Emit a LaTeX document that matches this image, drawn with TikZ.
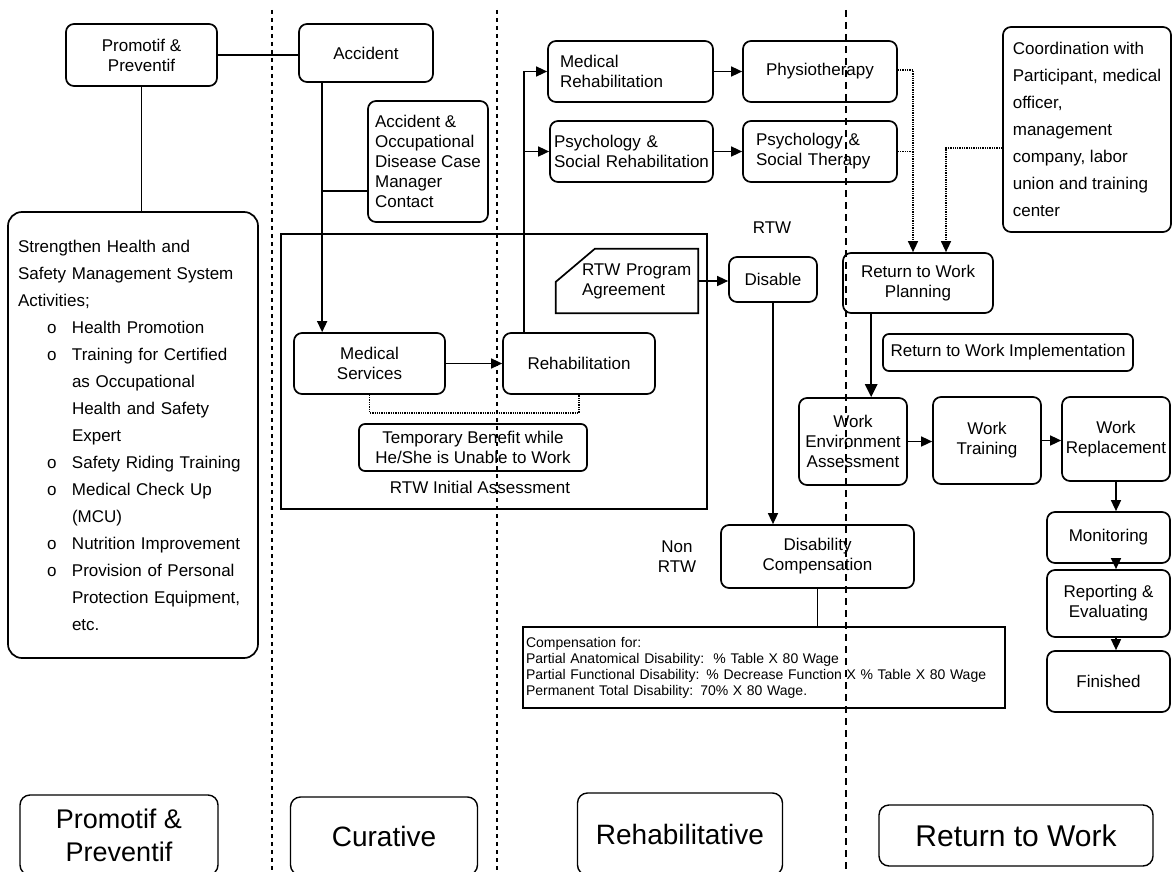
\documentclass[tikz,border=0pt]{standalone}
\usepackage{fontspec}
\setmainfont{Liberation Sans}
\usetikzlibrary{arrows.meta,calc}
% indentation helpers for the activity list
\newcommand{\shbul}{\makebox[54pt][l]{\hspace*{29pt}o}}
\newcommand{\shind}{\hspace*{54pt}}
\begin{document}
\begin{tikzpicture}[x=1pt,y=-1pt,
  box/.style={draw, rounded corners=8pt, line width=1.7pt, inner sep=0pt,
    align=center, font=\fontsize{17}{20}\selectfont},
  plain/.style={draw, line width=1.3pt, inner sep=0pt},
  lbl/.style={inner sep=0pt, align=center, font=\fontsize{17}{20}\selectfont},
  conn/.style={line width=1.5pt},
  arr/.style={line width=1.5pt, -{Triangle[length=11pt,width=10pt]}},
  thickarr/.style={line width=2.6pt, -{Triangle[length=13pt,width=12pt]}},
  dotline/.style={line width=1.3pt, densely dotted},
  dotarr/.style={line width=1.3pt, densely dotted, -{Triangle[length=11pt,width=10pt]}},
  divider/.style={line width=2.6pt, dash pattern=on 4pt off 4pt},
  dividerthin/.style={line width=2pt, dash pattern=on 7pt off 5pt},
  phase/.style={draw, rounded corners=10pt, line width=1.4pt, inner sep=0pt, align=center}
]
\useasboundingbox (0,0) rectangle (1172,872);

% ---------- Promotif & Preventif column ----------
\node[box, minimum width=151, minimum height=62] (pp) at (141.5,55) {Promotif \&\\Preventif};
\node[box, minimum width=250, minimum height=446, rounded corners=14pt, align=left,
      text width=230, font=\fontsize{17}{27}\selectfont] (sh) at (133,435) {%
Strengthen Health and\\
Safety Management System\\
Activities;\\
\shbul Health Promotion\\
\shbul Training for Certified\\
\shind as Occupational\\
\shind Health and Safety\\
\shind Expert\\
\shbul Safety Riding Training\\
\shbul Medical Check Up\\
\shind (MCU)\\
\shbul Nutrition Improvement\\
\shbul Provision of Personal\\
\shind Protection Equipment,\\
\shind etc.};

% ---------- Curative column ----------
\node[box, minimum width=134, minimum height=58] (acc) at (366,53) {Accident};
\node[box, minimum width=120, minimum height=121, align=left] (acdc) at (428,161.5)
  {Accident \&\\Occupational\\Disease Case\\Manager\\Contact};

% RTW initial assessment frame
\node[plain, minimum width=426, minimum height=275] (frame) at (494,371.5) {};
\node[lbl] (ria) at (480,487) {RTW Initial Assessment};

\node[box, minimum width=151, minimum height=61] (ms) at (369.5,363.5) {Medical\\Services};
\node[box, minimum width=152, minimum height=61] (rh) at (579,363.5) {Rehabilitation};
\node[box, minimum width=228, minimum height=47, rounded corners=6pt] (tb) at (473,447.5)
  {Temporary Benefit while\\He/She is Unable to Work};

% RTW program agreement (chamfered card)
\node[inner sep=0pt, minimum width=142, minimum height=64, align=left, text width=142,
      font=\fontsize{17}{20}\selectfont] (rtwpa) at (627,281)
  {\hspace*{26pt}RTW Program\\\hspace*{26pt}Agreement};
\draw[line width=1.7pt] (rtwpa.north east) -- (rtwpa.south east) -- (rtwpa.south west)
  -- ([yshift=-33pt]rtwpa.north west) -- ([xshift=39pt]rtwpa.north west) -- cycle;

% ---------- Rehabilitative column ----------
\node[box, minimum width=165, minimum height=61, align=left, text width=141] (mr) at (630.5,71.5)
  {Medical\\Rehabilitation};
\node[box, minimum width=163, minimum height=61, align=left, text width=155] (psr) at (631.5,151.5)
  {Psychology \&\\Social Rehabilitation};
\node[box, minimum width=154, minimum height=61] (phy) at (820,71.5) {Physiotherapy};
\node[box, minimum width=154, minimum height=61, align=left, text width=128] (pst) at (820,151.5)
  {Psychology \&\\Social Therapy};

\node[lbl] (rtwl) at (772,228) {RTW};
\node[box, minimum width=88, minimum height=45] (dis) at (773,279.5) {Disable};
\node[lbl] (nrtw) at (677,557) {Non\\RTW};
\node[box, minimum width=193, minimum height=63] (dc) at (817.5,556.5) {Disability\\Compensation};
\node[plain, line width=1.8pt, minimum width=482, minimum height=81, align=left, text width=476,
      font=\fontsize{14}{16}\selectfont] (comp) at (764,667.5)
  {Compensation for:\\
   Partial Anatomical Disability:\ \ \% Table X 80 Wage\\
   Partial Functional Disability: \% Decrease Function X \% Table X 80 Wage\\
   Permanent Total Disability: 70\% X 80 Wage.};

% ---------- Return to Work column ----------
\node[box, minimum width=168, minimum height=205, align=left,
      font=\fontsize{17}{27}\selectfont] (coord) at (1087,129.5)
  {Coordination with\\Participant, medical\\officer,\\management\\company, labor\\union and training\\center};
\node[box, minimum width=150, minimum height=60] (rtwp) at (918,283) {Return to Work\\Planning};
\node[box, minimum width=250, minimum height=37, rounded corners=6pt] (rtwi) at (1008,352.5)
  {Return to Work Implementation};
\node[box, minimum width=108, minimum height=87] (wea) at (853,441.5) {Work\\Environment\\Assessment};
\node[box, minimum width=108, minimum height=87] (wt) at (987,440.5) {Work\\Training};
\node[box, minimum width=108, minimum height=84] (wr) at (1116,439) {Work\\Replacement};
\node[box, minimum width=123, minimum height=51] (mon) at (1108.5,537.5) {Monitoring};
\node[box, minimum width=123, minimum height=67] (rep) at (1108.5,603.5) {Reporting \&\\Evaluating};
\node[box, minimum width=123, minimum height=61] (fin) at (1108.5,681.5) {Finished};

% ---------- phase labels ----------
\node[phase, minimum width=198, minimum height=80, font=\fontsize{27}{33}\selectfont] (ph1) at (119,835)
  {Promotif \&\\Preventif};
\node[phase, minimum width=187, minimum height=78, font=\fontsize{28}{33}\selectfont] (ph2) at (384,836) {Curative};
\node[phase, minimum width=205, minimum height=82, font=\fontsize{28}{33}\selectfont] (ph3) at (680,834) {Rehabilitative};
\node[phase, minimum width=274, minimum height=61, font=\fontsize{30}{33}\selectfont] (ph4) at (1016,835.5) {Return to Work};

% ---------- connectors ----------
\draw[conn] (pp.east) -- (pp.east -| acc.west);
\draw[conn] (pp.south) -- (pp.south |- sh.north);

\draw[arr] ([xshift=24pt]acc.south west) coordinate (a1) -- (a1 |- ms.north);
\draw[conn] ($(a1 |- acdc.west)+(0,29.5)$) -- ($(acdc.west)+(0,29.5)$);
\draw[arr] (ms.east) -- (rh.west);

\draw[arr] ([xshift=22pt]rh.north west) coordinate (r1) |- (mr.west);
\draw[arr] (r1 |- psr.west) -- (psr.west);
\draw[arr] (mr.east) -- (mr.east -| phy.west);
\draw[arr] (psr.east) -- (psr.east -| pst.west);

\draw[dotline] (ms.south) -- ++(0,18) -| (rh.south);

\coordinate (d1) at ([xshift=-5pt]rtwp.north);
\draw[dotarr] ([yshift=1.5pt]phy.east) -| (d1);
\draw[dotline] (pst.east) -- (pst.east -| d1);
\draw[dotarr] ([yshift=-18.5pt]coord.west) -| ([xshift=28pt]rtwp.north);

\draw[arr] (rtwpa.east) -- (rtwpa.east -| dis.west);
\draw[arr] (dis.south) -- (dis.south |- dc.north);
\draw[conn] (dc.south) -- (dc.south |- comp.north);

\draw[thickarr] ([xshift=29pt]rtwp.south west) coordinate (r2) -- (r2 |- wea.north);
\draw[arr] (wea.east) -- (wea.east -| wt.west);
\draw[arr] (wt.east) -- (wt.east -| wr.west);
\draw[arr] (wr.south) -- (wr.south |- mon.north);
\draw[arr] (wr.south |- mon.south) -- (wr.south |- rep.north);
\draw[arr] (wr.south |- rep.south) -- (wr.south |- fin.north);

% ---------- phase dividers ----------
\draw[divider] (272,10) -- (272,872);
\draw[divider] (497,10) -- (497,872);
\draw[dividerthin] (846,10) -- (846,872);
\end{tikzpicture}
\end{document}
